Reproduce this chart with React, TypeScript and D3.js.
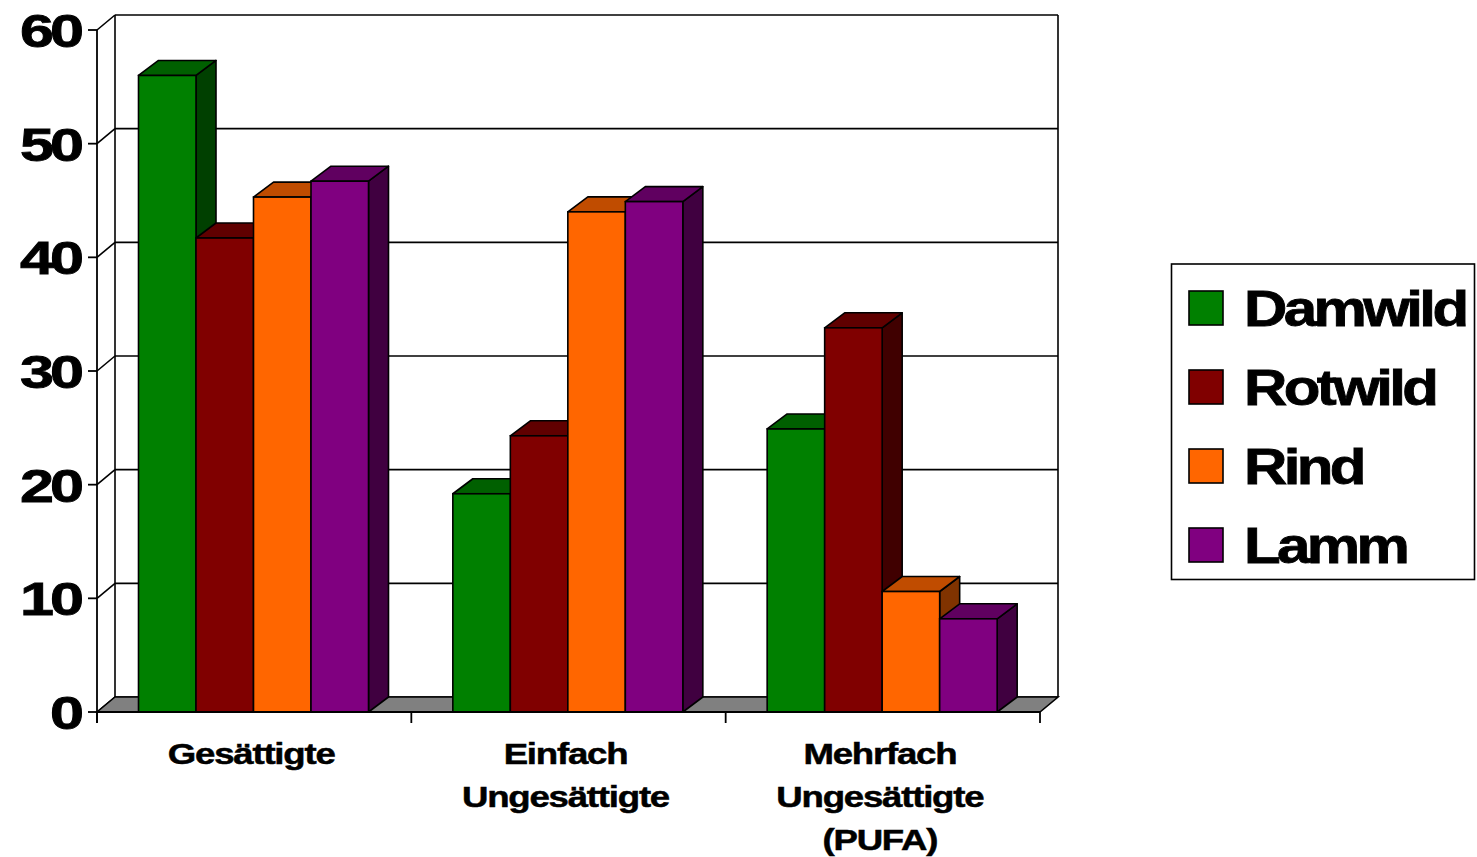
import React from "react";
import * as d3 from "d3";

const categories: string[][] = [
  ["Gesättigte"],
  ["Einfach", "Ungesättigte"],
  ["Mehrfach", "Ungesättigte", "(PUFA)"],
];
const seriesNames = ["Damwild", "Rotwild", "Rind", "Lamm"];
const damwild = [56.0, 19.2, 24.9];
const rotwild = [41.7, 24.3, 33.8];
const rind = [45.3, 44.0, 10.6];
const lamm = [46.7, 44.9, 8.2];
const yTicks = [0, 10, 20, 30, 40, 50, 60];

const frontColors = ["#008000", "#800000", "#FF6600", "#800080"];
const topColors = ["#006000", "#600000", "#C04C00", "#600060"];
const sideColors = ["#004000", "#400000", "#803300", "#400040"];

const W = 1477;
const H = 857;
const left = 97;
const right = 1040;
const bottom = 712;
const top = 30;
const wallDx = 18;
const wallDy = 15;
const barDx = 20;
const barDy = 15;

export default function App() {
  const values = [damwild, rotwild, rind, lamm];
  const catKeys = categories.map((c) => c.join(" "));
  const x0 = d3.scaleBand<string>().domain(catKeys).range([left, right]).padding(0);
  const x1 = d3.scaleBand<string>().domain(seriesNames).range([41.5, 271.5]).padding(0);
  const y = d3.scaleLinear().domain([0, 60]).range([bottom, top]);
  const bw = x1.bandwidth();
  const stroke = "#000";

  const bars: React.ReactNode[] = [];
  catKeys.forEach((ck, ci) => {
    seriesNames.forEach((s, si) => {
      const v = values[si][ci];
      const xl = (x0(ck) as number) + (x1(s) as number);
      const xr = xl + bw;
      const yt = y(v);
      const sidePts = [
        [xr, yt],
        [xr + barDx, yt - barDy],
        [xr + barDx, bottom - barDy],
        [xr, bottom],
      ];
      const topPts = [
        [xl, yt],
        [xl + barDx, yt - barDy],
        [xr + barDx, yt - barDy],
        [xr, yt],
      ];
      bars.push(
        <g key={`${ci}-${si}`}>
          <polygon points={sidePts.map((p) => p.join(",")).join(" ")} fill={sideColors[si]} stroke={stroke} strokeWidth={1.6} strokeLinejoin="round" />
          <polygon points={topPts.map((p) => p.join(",")).join(" ")} fill={topColors[si]} stroke={stroke} strokeWidth={1.6} strokeLinejoin="round" />
          <rect x={xl} y={yt} width={bw} height={bottom - yt} fill={frontColors[si]} stroke={stroke} strokeWidth={1.6} />
        </g>
      );
    });
  });

  const floorPts = [
    [left, bottom],
    [left + wallDx, bottom - wallDy],
    [right + wallDx, bottom - wallDy],
    [right, bottom],
  ];

  const legendY = [308, 387, 466, 545];

  return (
    <svg width={W} height={H} style={{ position: "absolute", left: 0, top: 0, background: "#fff" }} fontFamily="'Liberation Sans', Arial, sans-serif">
      {/* back wall gridlines */}
      {yTicks.map((t) => (
        <g key={`g${t}`}>
          <line x1={left + wallDx} x2={right + wallDx} y1={y(t) - wallDy} y2={y(t) - wallDy} stroke="#000" strokeWidth={1.6} />
          <line x1={left} x2={left + wallDx} y1={y(t)} y2={y(t) - wallDy} stroke="#000" strokeWidth={1.6} />
        </g>
      ))}
      <line x1={left + wallDx} x2={left + wallDx} y1={y(60) - wallDy} y2={bottom - wallDy} stroke="#000" strokeWidth={1.6} />
      <line x1={right + wallDx} x2={right + wallDx} y1={y(60) - wallDy} y2={bottom - wallDy} stroke="#000" strokeWidth={1.6} />
      {/* floor */}
      <polygon points={floorPts.map((p) => p.join(",")).join(" ")} fill="#808080" stroke="#000" strokeWidth={1.6} />
      {/* bars */}
      {bars}
      {/* y axis */}
      <line x1={left} x2={left} y1={top} y2={bottom + 11} stroke="#000" strokeWidth={1.8} />
      {yTicks.map((t) => (
        <g key={`t${t}`}>
          <line x1={left - 9} x2={left} y1={y(t)} y2={y(t)} stroke="#000" strokeWidth={1.8} />
          <text
            transform={`translate(80,${y(t) + 17}) scale(1.33,1)`}
            textAnchor="end"
            fontSize={46}
            fontWeight="bold"
            letterSpacing={-3}
            stroke="#000"
            strokeWidth={0.8}
            fill="#000"
          >
            {t}
          </text>
        </g>
      ))}
      {/* x axis */}
      <line x1={left} x2={right} y1={bottom} y2={bottom} stroke="#000" strokeWidth={1.8} />
      {[...catKeys.map((ck) => x0(ck) as number), right].map((xv, i) => (
        <line key={`xt${i}`} x1={xv} x2={xv} y1={bottom} y2={bottom + 11} stroke="#000" strokeWidth={1.8} />
      ))}
      {categories.map((lines, ci) => {
        const cx = (x0(catKeys[ci]) as number) + x0.bandwidth() / 2 - 3;
        return lines.map((ln, li) => (
          <text
            key={`c${ci}-${li}`}
            transform={`translate(${cx},${764 + li * 43}) scale(1.22,1)`}
            textAnchor="middle"
            fontSize={30}
            fontWeight="bold"
            letterSpacing={-1}
            stroke="#000"
            strokeWidth={0.5}
            fill="#000"
          >
            {ln}
          </text>
        ));
      })}
      {/* legend */}
      <rect x={1171.5} y={264} width={303} height={315.5} fill="#fff" stroke="#000" strokeWidth={1.6} />
      {seriesNames.map((s, si) => (
        <g key={`l${s}`}>
          <rect x={1189} y={legendY[si] - 17} width={34} height={34} fill={frontColors[si]} stroke="#000" strokeWidth={1.6} />
          <text
            transform={`translate(1244,${legendY[si] + 18}) scale(1.2,1)`}
            fontSize={50}
            fontWeight="bold"
            letterSpacing={-3}
            stroke="#000"
            strokeWidth={0.8}
            fill="#000"
          >
            {s}
          </text>
        </g>
      ))}
    </svg>
  );
}
